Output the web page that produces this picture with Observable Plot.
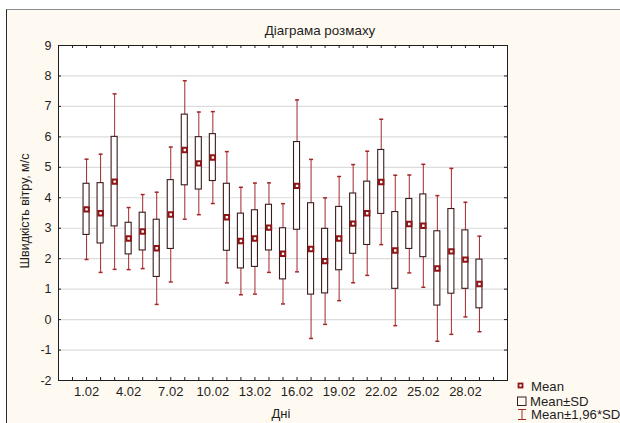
<!DOCTYPE html>
<html><head><meta charset="utf-8">
<script src="https://cdn.jsdelivr.net/npm/d3@7"></script>
<script src="https://cdn.jsdelivr.net/npm/@observablehq/plot@0.6"></script>
<style>
html,body{margin:0;padding:0;background:#fff;}
#wrap{position:relative;width:620px;height:423px;overflow:hidden;}
#bg{position:absolute;left:6px;top:9px;right:0;bottom:0;background:#fffaf1;border-top:1px solid #8c8c8c;border-left:1px solid #2a2a2a;}
#chart{position:absolute;left:0;top:0;}
</style></head><body>
<div id="wrap"><div id="bg"></div><div id="chart"></div></div>
<script>
const days = [1,2,3,4,5,6,7,8,9,10,11,12,13,14,15,16,17,18,19,20,21,22,23,24,25,26,27,28,29];
const means = [3.62,3.49,4.53,2.66,2.89,2.34,3.45,5.57,5.13,5.32,3.36,2.58,2.66,3.02,2.16,4.39,2.32,1.92,2.66,3.15,3.49,4.52,2.27,3.14,3.08,1.68,2.24,1.97,1.17];
const sds = [0.84,0.99,1.47,0.52,0.62,0.94,1.13,1.16,0.86,0.77,1.10,0.90,0.93,0.75,0.84,1.44,1.50,1.06,1.04,0.99,1.04,1.05,1.26,0.82,1.03,1.22,1.39,0.96,0.80];
const yTicks = [-2,-1,0,1,2,3,4,5,6,7,8,9];
const xLabelDays = [1,4,7,10,13,16,19,22,25,28];
const titleText = "Діаграма розмаху";
const xTitle = "Дні";
const yTitle = "Швидкість вітру, м/с";
const legendItems = ["Mean","Mean±SD","Mean±1,96*SD"];

const data = days.map((d,i)=>({day:d, mean:means[i], sd:sds[i]}));

const W=620,H=423, mL=58, mR=113, mT=45, mB=43;
const plotW = W-mL-mR, plotH = H-mT-mB;
const xTickVals = d3.range(-1, 32);
const gridVals = d3.range(-1, 9);
const whisk = "#a3282a", meanCol="#8e1416", boxCol="#3b1c1c", ink="#1e1e1e";
const FONT = "'Liberation Sans', Arial, sans-serif";
const capSym = {draw(ctx, size){ const w=2; ctx.moveTo(-w,0); ctx.lineTo(w,0);} };

const chart = Plot.plot({
  width:W, height:H, marginLeft:mL, marginRight:mR, marginTop:mT, marginBottom:mB,
  style:{background:"transparent", fontFamily:FONT, fontSize:"12.5px", color:ink},
  x:{domain:[-1,31], axis:null},
  y:{domain:[-2,9], axis:null},
  marks:[
    Plot.frame({fill:"white"}),
    Plot.ruleY(gridVals, {y:d=>d, stroke:"#dcdcdc", strokeWidth:1.2}),
    Plot.ruleX(data, {x:"day", y1:d=>d.mean-1.96*d.sd, y2:d=>d.mean+1.96*d.sd, stroke:whisk}),
    Plot.dot(data, {x:"day", y:d=>d.mean+1.96*d.sd, symbol:capSym, stroke:whisk, fill:"none", r:2}),
    Plot.dot(data, {x:"day", y:d=>d.mean-1.96*d.sd, symbol:capSym, stroke:whisk, fill:"none", r:2}),
    Plot.rect(data, {x1:d=>d.day-0.5, x2:d=>d.day+0.5, y1:d=>d.mean-d.sd, y2:d=>d.mean+d.sd, insetLeft:4, insetRight:4, fill:"white", stroke:boxCol, strokeWidth:1.1}),
    Plot.dot(data, {x:"day", y:"mean", symbol:"square", r:2.5, stroke:meanCol, strokeWidth:2, fill:"white"}),
    Plot.tickX(xTickVals, {x:d=>d, insetTop:plotH-3, stroke:ink}),
    Plot.tickX(xTickVals, {x:d=>d, insetBottom:plotH-3, stroke:ink}),
    Plot.tickY(yTicks, {y:d=>d, insetRight:plotW-3, stroke:ink}),
    Plot.tickY(yTicks, {y:d=>d, insetLeft:plotW-3, stroke:ink}),
    Plot.frame({stroke:ink}),
    Plot.axisY(yTicks, {anchor:"left", tickSize:0, tickPadding:7, label:null, fontSize:12.5, tickFormat:d=>String(d)}),
    Plot.axisX(xLabelDays, {anchor:"bottom", tickSize:0, tickPadding:6, fontSize:13, tickFormat:d=>d+".02", label:null})
  ]
});
document.getElementById("chart").appendChild(chart);

const svg = d3.select(chart);
const g = svg.append("g").attr("font-family", FONT).attr("font-style","normal").attr("fill", ink);
g.append("text").attr("x", 320).attr("y", 30).attr("font-size", 13.4).attr("text-anchor","middle").attr("dominant-baseline","central").text(titleText);
g.append("text").attr("x", 281).attr("y", 413).attr("font-size", 13).attr("text-anchor","middle").attr("dominant-baseline","central").text(xTitle);
g.append("text").attr("transform","translate(25,211) rotate(-90)").attr("font-size", 12.5).attr("text-anchor","middle").attr("dominant-baseline","central").text(yTitle);

// legend
const lg = svg.append("g").attr("font-family", FONT).attr("font-size", 13.2).attr("fill", ink).attr("text-anchor","start");
lg.append("rect").attr("x",518.5).attr("y",383.5).attr("width",4).attr("height",4).attr("fill","white").attr("stroke",meanCol).attr("stroke-width",1.8);
lg.append("rect").attr("x",517.5).attr("y",397).attr("width",8.5).attr("height",8.5).attr("fill","none").attr("stroke",boxCol);
lg.append("path").attr("d","M518,409.5H526M522,409.5V419.5M518,419.5H526").attr("stroke",whisk).attr("fill","none");
const ly = [386, 401, 414.5];
legendItems.forEach((t,i)=>{
  lg.append("text").attr("x", i===1?530:531).attr("y", ly[i]).attr("text-anchor","start").attr("dominant-baseline","central").text(t);
});
</script>
</body></html>
